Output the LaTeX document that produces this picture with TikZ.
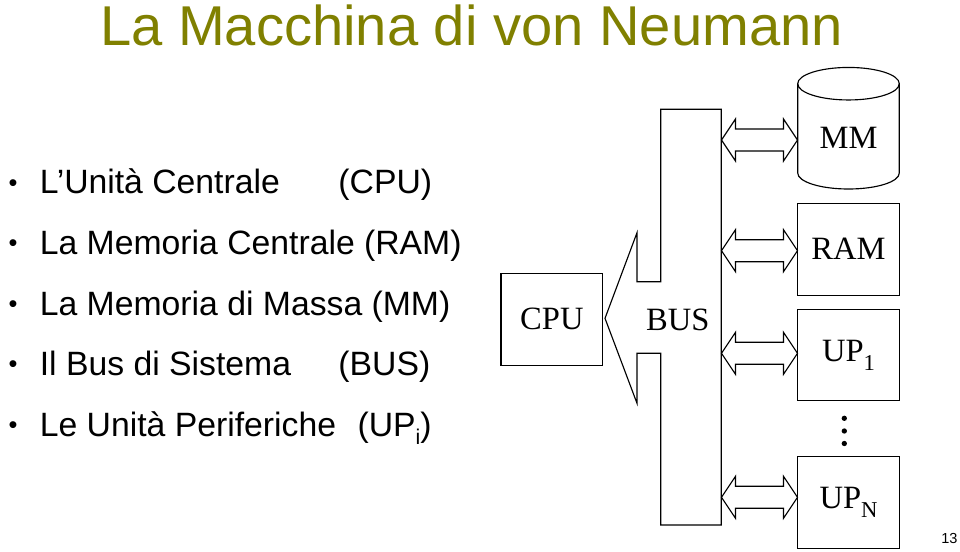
\documentclass[tikz,border=0pt]{standalone}
\usepackage{fontspec}
\setmainfont{Liberation Serif}
\newfontfamily\arialf{Liberation Sans}
\usetikzlibrary{calc}
\definecolor{titleolive}{RGB}{128,128,0}
\newcommand\mysub[1]{\raisebox{-0.27em}{\fontsize{17}{20}\selectfont #1}}
\newcommand\dblarrow[2]{%
  \draw[arr] (#1) -- ($(#1)+(14,-21)$) -- ($(#1)+(14,-11)$) -- ($(#2)+(-14,-11)$)
    -- ($(#2)+(-14,-21)$) -- (#2) -- ($(#2)+(-14,21)$) -- ($(#2)+(-14,11)$)
    -- ($(#1)+(14,11)$) -- ($(#1)+(14,21)$) -- cycle;}
\begin{document}
\begin{tikzpicture}[x=0.75pt,y=-0.75pt,
  line width=0.85pt,
  box/.style={draw, line width=0.85pt, minimum width=76.2pt, minimum height=68.8pt,
    inner sep=0pt, font=\fontsize{24.4}{28}\selectfont},
  lbl/.style={inner sep=0pt, font=\fontsize{24.4}{28}\selectfont},
  bul/.style={anchor=base west, inner sep=0pt, font=\arialf\fontsize{25.3}{30}\selectfont},
  bdot/.style={anchor=base, inner sep=0pt, font=\arialf\fontsize{19}{22}\selectfont},
  arr/.style={draw, line width=0.85pt, line join=miter},
  vdot/.style={fill=black, draw=none}
]
\useasboundingbox (0,0) rectangle (960,551);

% title
\node[anchor=base, inner sep=0pt, text=titleolive,
  font=\arialf\fontsize{42.1}{48}\selectfont] (title) at (471.5,45.7) {La Macchina di von Neumann};

% bullets
\foreach \yy/\nm in {193.5/b1,254/b2,315/b3,375/b4,436/b5}{
  \node[bdot] (\nm) at (13,\yy) {\raisebox{1.6pt}{•}};
}
\node[bul] (t1) at (39.3,193.5) {\makebox[224pt][l]{L’Unità Centrale}(CPU)};
\node[bul] (t2) at (39.3,254) {La Memoria Centrale (RAM)};
\node[bul] (t3) at (39.3,315) {La Memoria di Massa (MM)};
\node[bul] (t4) at (39.3,375) {\makebox[224pt][l]{Il Bus di Sistema}(BUS)};
\node[bul] (t5) at (39.3,436) {\makebox[238.3pt][l]{Le Unità Periferiche}(UP\raisebox{-0.25em}{\fontsize{16}{18}\selectfont i})};

% bus shape
\draw[arr] (660.7,109.3) -- (721.3,109.3) -- (721.3,525) -- (660.7,525)
  -- (660.7,353.3) -- (637,353.3) -- (637,403.3) -- (605,318.3)
  -- (637,232.7) -- (637,281.7) -- (660.7,281.7) -- cycle;
\node[lbl] (bus) at (677.7,320) {BUS};
\coordinate (busR) at (721.5,320);

% CPU
\node[box] (cpu) at (551.85,319.3) {CPU};

% MM cylinder
\draw (848.5,83.7) ellipse [x radius=38.1pt, y radius=12.2pt];
\draw (797.7,83.7) -- (797.7,173) arc [start angle=180, end angle=360, x radius=38.1pt, y radius=12pt] -- (899.3,83.7);
\node[lbl, minimum width=76.2pt] (mm) at (848.5,138.3) {MM};

% boxes
\node[box] (ram) at (848.5,249.2) {RAM};
\node[box] (up1) at (848.5,355) {UP\mysub{1}};
\node[box] (upn) at (848.5,502.5) {UP\mysub{N}};

% dots
\fill[vdot] (844.3,418.3) circle (2pt);
\fill[vdot] (844.3,431) circle (2pt);
\fill[vdot] (844.3,443.5) circle (2pt);

% arrow end points
\coordinate (eMM) at (797.5,140);
\coordinate (eRAM) at (797.5,250.7);
\coordinate (eUP1) at (797.5,353.3);
\coordinate (eUPN) at (797.5,497.3);
\dblarrow{busR |- eMM}{eMM}
\dblarrow{busR |- eRAM}{eRAM}
\dblarrow{busR |- eUP1}{eUP1}
\dblarrow{busR |- eUPN}{eUPN}

% page number
\node[anchor=base east, inner sep=0pt, font=\arialf\fontsize{10.9}{12}\selectfont] (pg) at (958,543) {13};
\end{tikzpicture}
\end{document}
